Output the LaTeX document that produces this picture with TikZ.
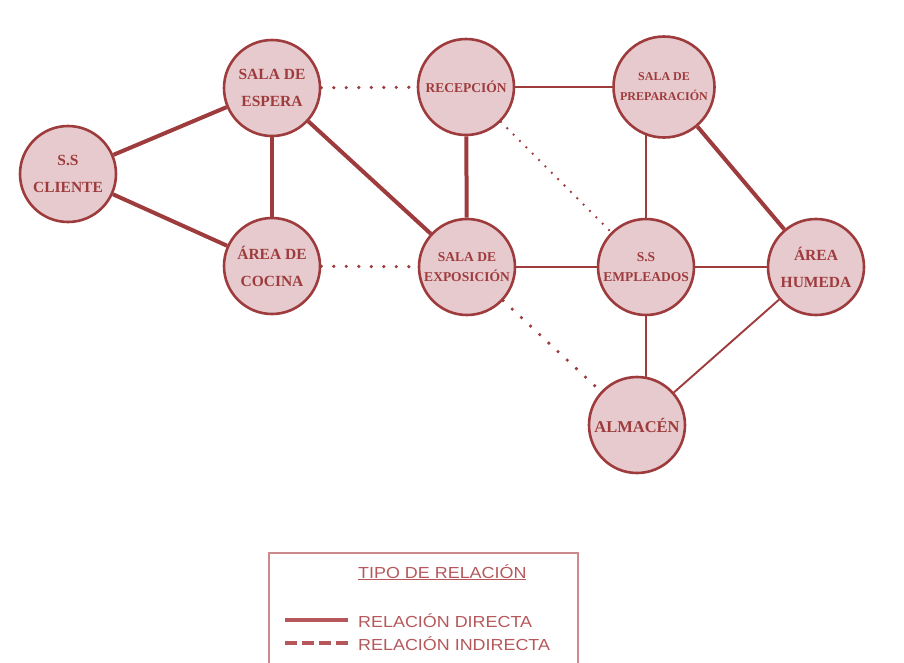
\documentclass[tikz,border=0pt]{standalone}
\usepackage{fontspec}
\setmainfont{Liberation Serif}
\newfontfamily\legendfont[FakeStretch=1.12]{Liberation Sans}
\usetikzlibrary{backgrounds}
\definecolor{vino}{HTML}{9E3B3D}
\definecolor{rosa}{HTML}{E6CACD}
\definecolor{vinoclaro}{HTML}{B6585B}

\begin{document}
\begin{tikzpicture}[x=1pt,y=-1pt,
    area/.style={circle,draw=vino,line width=2.6pt,fill=rosa,text=vino,minimum size=96pt,inner sep=0pt,align=center,font=\bfseries\fontsize{15.5}{27}\selectfont},
    areamed/.style={area,font=\bfseries\fontsize{13.5}{20}\selectfont},
    directa/.style={draw=vino,line width=4pt},
    simple/.style={draw=vino,line width=1.9pt},
    indirecta/.style={draw=vino,line width=3.6pt,line cap=round,dash pattern=on 0pt off 12.5pt},
    indirectafina/.style={draw=vino,line width=2.6pt,line cap=round,dash pattern=on 0pt off 9pt},
    leyenda/.style={anchor=base west,inner sep=0pt,text=vinoclaro,font=\legendfont\fontsize{16}{18}\selectfont}]
\useasboundingbox (0,0) rectangle (904,662);

% areas
\node[area] (cliente) at (68,174) {S.S\\CLIENTE};
\node[area] (espera) at (272,88) {SALA DE\\ESPERA};
\node[area] (cocina) at (272,266) {ÁREA DE\\COCINA};
\node[areamed] (recep) at (466,87) {RECEPCIÓN};
\node[area,minimum size=101pt,font=\bfseries\fontsize{12}{20}\selectfont] (prep) at (664,87) {SALA DE\\PREPARACIÓN};
\node[areamed] (expo) at (467,267) {SALA DE\\EXPOSICIÓN};
\node[areamed] (emp) at (646,267) {S.S\\EMPLEADOS};
\node[area] (humeda) at (816,267) {ÁREA\\HUMEDA};
\node[area,font=\bfseries\fontsize{16.5}{20}\selectfont] (alm) at (637,425) {ALMACÉN};

% relaciones
\begin{scope}[on background layer]
  \foreach \a/\b in {cliente/espera,cliente/cocina,espera/cocina,espera/expo,recep/expo,prep/humeda}
    \draw[directa] (\a) -- (\b);
  \foreach \a/\b in {recep/prep,expo/emp,emp/humeda,humeda/alm}
    \draw[simple] (\a) -- (\b);
  \draw[simple] (emp) -- (emp |- prep);
  \draw[simple] (emp) -- (emp |- alm);
  \foreach \a/\b in {espera/recep,cocina/expo,expo/alm}
    \draw[indirecta] (\a) -- (\b);
  \draw[indirectafina] (recep) -- (emp);
\end{scope}

% leyenda
\draw[draw=vinoclaro!70,line width=2pt] (269,664) -- (269,553) -- (578,553) -- (578,664);
\node[leyenda] (titulo) at (358,578) {\underline{TIPO DE RELACIÓN}};
\node[leyenda] (dir) at (358,627) {RELACIÓN DIRECTA};
\node[leyenda] (indir) at (358,650) {RELACIÓN INDIRECTA};
\draw[vinoclaro,line width=3.4pt] ([xshift=-73pt]dir.west) -- ([xshift=-10pt]dir.west);
\draw[vinoclaro,line width=3.4pt,dash pattern=on 12pt off 5pt] ([xshift=-73pt]indir.west) -- ([xshift=-10pt]indir.west);
\end{tikzpicture}
\end{document}
